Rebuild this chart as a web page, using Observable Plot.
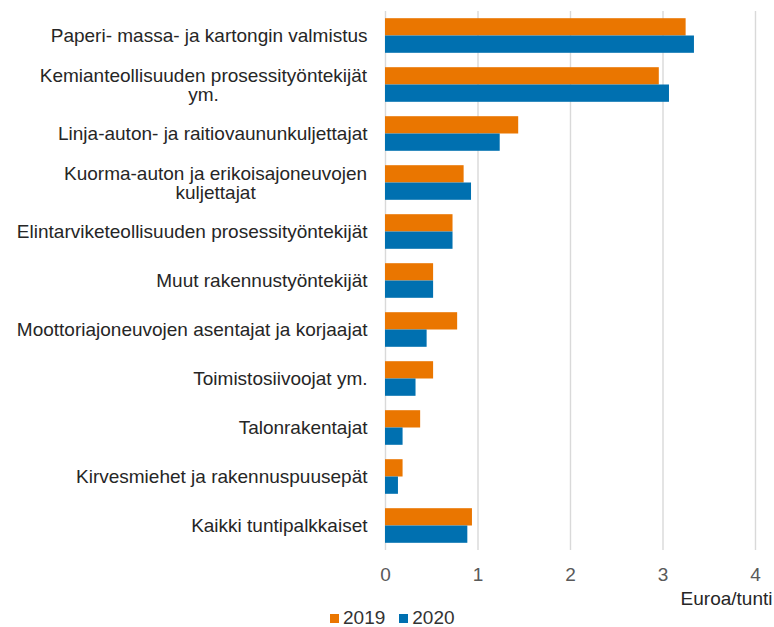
<!DOCTYPE html>
<html>
<head>
<meta charset="utf-8">
<script src="https://cdn.jsdelivr.net/npm/d3@7"></script>
<script src="https://cdn.jsdelivr.net/npm/@observablehq/plot@0.6"></script>
<style>
  body { margin: 0; background: #fff; font-family: "Liberation Sans", Arial, sans-serif; }
  #chart { position: relative; width: 774px; height: 627px; overflow: hidden; }
  .legend { position: absolute; left: 330px; top: 610px; display: flex; align-items: center; font-size: 19px; color: #333; line-height: 16px; }
  .legend .item { display: flex; align-items: center; margin-right: 14px; }
  .legend .sw { width: 9px; height: 9px; display: inline-block; margin-right: 4px; }
</style>
</head>
<body>
<div id="chart"></div>
<script>
const categories = [
  "Paperi- massa- ja kartongin valmistus",
  "Kemianteollisuuden prosessityöntekijät ym.",
  "Linja-auton- ja raitiovaununkuljettajat",
  "Kuorma-auton ja erikoisajoneuvojen kuljettajat",
  "Elintarviketeollisuuden prosessityöntekijät",
  "Muut rakennustyöntekijät",
  "Moottoriajoneuvojen asentajat ja korjaajat",
  "Toimistosiivoojat ym.",
  "Talonrakentajat",
  "Kirvesmiehet ja rakennuspuusepät",
  "Kaikki tuntipalkkaiset"
];
const tickLabels = [
  "Paperi- massa- ja kartongin valmistus",
  "Kemianteollisuuden prosessityöntekijät\nym.",
  "Linja-auton- ja raitiovaununkuljettajat",
  "Kuorma-auton ja erikoisajoneuvojen\nkuljettajat",
  "Elintarviketeollisuuden prosessityöntekijät",
  "Muut rakennustyöntekijät",
  "Moottoriajoneuvojen asentajat ja korjaajat",
  "Toimistosiivoojat ym.",
  "Talonrakentajat",
  "Kirvesmiehet ja rakennuspuusepät",
  "Kaikki tuntipalkkaiset"
];
const values2019 = [3.25, 2.96, 1.44, 0.85, 0.73, 0.52, 0.78, 0.52, 0.38, 0.19, 0.94];
const values2020 = [3.34, 3.07, 1.24, 0.93, 0.73, 0.52, 0.45, 0.33, 0.19, 0.14, 0.89];
const years = ["2019", "2020"];
const colors = ["#EA7600", "#0070B0"];
const xTicks = [0, 1, 2, 3, 4];
const xLabel = "Euroa/tunti";

const rows = categories.flatMap((c, i) => [
  {cat: c, year: years[0], value: values2019[i]},
  {cat: c, year: years[1], value: values2020[i]}
]);

const font = "'Liberation Sans', Arial, sans-serif";

const plot = Plot.plot({
  width: 774,
  height: 610,
  marginLeft: 385,
  marginRight: 19,
  marginTop: 11,
  marginBottom: 60,
  style: {fontFamily: font, fontSize: "19px", background: "#fff", overflow: "visible"},
  x: {domain: [0, 4], ticks: xTicks, label: null},
  y: {domain: categories, padding: 0, label: null},
  color: {domain: years, range: colors},
  marks: [
    Plot.gridX(xTicks, {stroke: "#d9d9d9", strokeOpacity: 1, strokeWidth: 1.4}),
    Plot.barX(rows.filter(d => d.year === years[0]), {
      x: "value", y: "cat", fill: "year", insetTop: 7.2, insetBottom: 24.5
    }),
    Plot.barX(rows.filter(d => d.year === years[1]), {
      x: "value", y: "cat", fill: "year", insetTop: 24.5, insetBottom: 7.2
    }),
    Plot.axisX(xTicks, {tickSize: 0, tickPadding: 17, fill: "#595959", fontSize: 19, label: null}),
    Plot.axisY({
      tickSize: 0, tickPadding: 18, fill: "#262626", fontSize: 19, lineHeight: 1.0,
      tickFormat: d => tickLabels[categories.indexOf(d)], label: null
    }),
    Plot.text([xLabel], {
      frameAnchor: "bottom-right", textAnchor: "end", dx: 17, dy: 54,
      fill: "#262626", fontSize: 19
    })
  ]
});

const chart = document.getElementById("chart");
chart.appendChild(plot);

// center multi-line y tick labels as in the original
plot.querySelectorAll('g[aria-label="y-axis tick label"] text').forEach(t => {
  const spans = t.querySelectorAll("tspan");
  if (spans.length > 1) {
    const w = t.getBBox().width;
    t.setAttribute("text-anchor", "middle");
    spans.forEach(s => s.setAttribute("x", -w / 2));
  }
});

const legend = document.createElement("div");
legend.className = "legend";
years.forEach((y, i) => {
  const item = document.createElement("span");
  item.className = "item";
  const sw = document.createElement("span");
  sw.className = "sw";
  sw.style.background = colors[i];
  item.appendChild(sw);
  item.appendChild(document.createTextNode(y));
  legend.appendChild(item);
});
chart.appendChild(legend);
</script>
</body>
</html>
